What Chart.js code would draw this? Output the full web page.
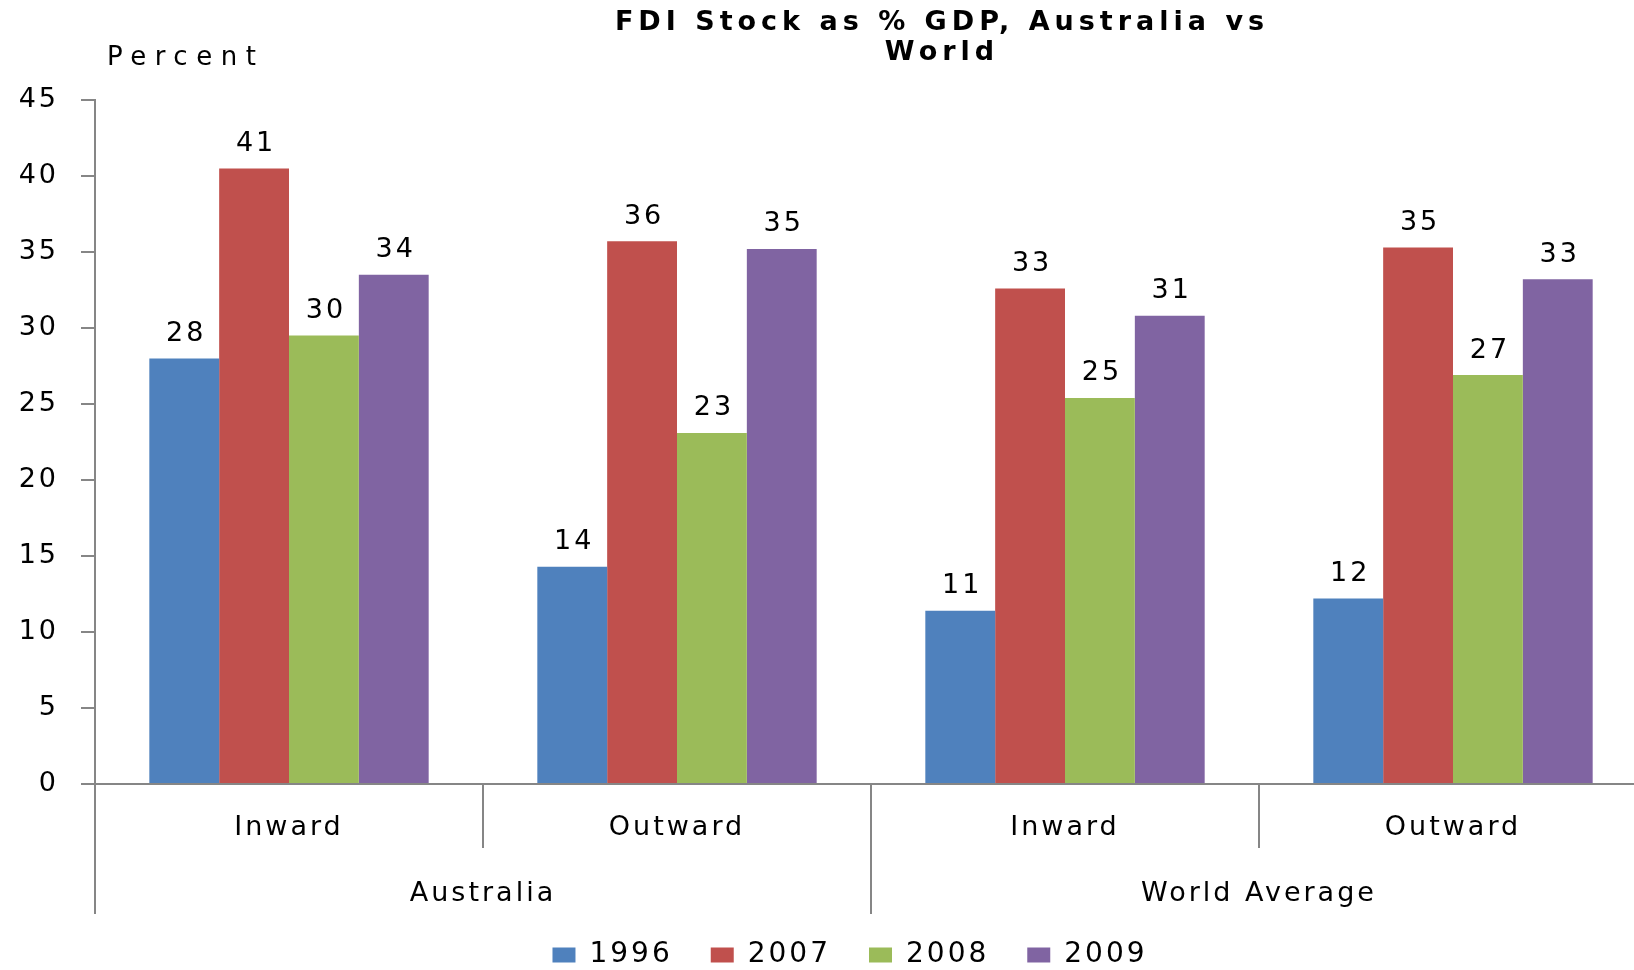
<!DOCTYPE html>
<html>
<head>
<meta charset="utf-8">
<title>FDI Stock as % GDP</title>
<script src="https://cdn.jsdelivr.net/npm/chart.js@4.4.1/dist/chart.umd.min.js"></script>
<style>
  html, body { margin: 0; padding: 0; background: #fff; }
  #wrap { width: 1634px; height: 970px; }
</style>
</head>
<body>
<div id="wrap"><canvas id="fdiChart" width="1634" height="970"></canvas></div>
<script>
const categories = ['Inward', 'Outward', 'Inward', 'Outward'];
const groups = ['Australia', 'World Average'];
const years = ['1996', '2007', '2008', '2009'];
const values1996 = [28.0, 14.3, 11.4, 12.2];
const values2007 = [40.5, 35.7, 32.6, 35.3];
const values2008 = [29.5, 23.1, 25.4, 26.9];
const values2009 = [33.5, 35.2, 30.8, 33.2];
const yTicks = [0, 5, 10, 15, 20, 25, 30, 35, 40, 45];
const colors = ['#4F81BD', '#C0504D', '#9BBB59', '#8064A2'];

const FONT = 'DejaVu Sans';
const SIZE = 27;
const SPACING = '3px';
const axisGrey = '#868686';

// Excel-like wide text
const spacingPlugin = {
  id: 'spacing',
  beforeLayout(chart) { chart.ctx.letterSpacing = SPACING; },
  afterLayout(chart) {
    // plot runs a little past the right edge of the picture
    const extra = 13;
    chart.chartArea.right += extra;
    chart.chartArea.width += extra;
    ['x', 'x2'].forEach(id => {
      const s = chart.scales[id];
      s.right += extra;
      s.width += extra;
      s.configure();
    });
    // legend sits a little right of the canvas centre in the original
    const lg = chart.legend;
    lg.left += 33;
    lg.right += 33;
    lg.top -= 28;
    lg.bottom -= 28;
  },
  beforeDraw(chart) { chart.ctx.letterSpacing = SPACING; }
};

const extrasPlugin = {
  id: 'extras',
  afterDraw(chart) {
    const ctx = chart.ctx;
    const x = chart.scales.x;
    ctx.save();

    // title and unit label
    ctx.fillStyle = '#000';
    ctx.textAlign = 'center';
    ctx.textBaseline = 'middle';
    ctx.letterSpacing = '5px';
    ctx.font = 'bold 27px "' + FONT + '"';
    ctx.fillText('FDI Stock as % GDP, Australia vs', 942, 23);
    ctx.fillText('World', 942, 53);
    ctx.letterSpacing = '8.5px';
    ctx.font = '26px "' + FONT + '"';
    ctx.textAlign = 'left';
    ctx.fillText('Percent', 107, 58);

    // category / group separators under the axis
    ctx.strokeStyle = axisGrey;
    ctx.lineWidth = 2;
    const step = x.width / categories.length;
    for (let i = 0; i < categories.length; i++) {
      const bx = Math.round(x.left + i * step);
      const long = i % 2 === 0;
      ctx.beginPath();
      ctx.moveTo(bx, x.top);
      ctx.lineTo(bx, long ? x.top + 130 : x.top + 64);
      ctx.stroke();
    }

    // value labels
    ctx.letterSpacing = SPACING;
    ctx.font = SIZE + 'px "' + FONT + '"';
    ctx.textAlign = 'center';
    ctx.textBaseline = 'bottom';
    chart.data.datasets.forEach((ds, di) => {
      chart.getDatasetMeta(di).data.forEach((bar, i) => {
        ctx.fillText(String(Math.round(ds.data[i])), bar.x + 2, bar.y - 11);
      });
    });
    ctx.restore();
  }
};

window.addEventListener('load', () => {
  const ctx = document.getElementById('fdiChart').getContext('2d');
  new Chart(ctx, {
    type: 'bar',
    data: {
      labels: categories,
      datasets: [
        { label: years[0], data: values1996, backgroundColor: colors[0] },
        { label: years[1], data: values2007, backgroundColor: colors[1] },
        { label: years[2], data: values2008, backgroundColor: colors[2] },
        { label: years[3], data: values2009, backgroundColor: colors[3] }
      ]
    },
    options: {
      responsive: false,
      animation: false,
      layout: { padding: { top: 100, left: 0, right: 0, bottom: -37 } },
      datasets: {
        bar: { barPercentage: 1.0, categoryPercentage: 0.72 }
      },
      scales: {
        y: {
          min: 0,
          max: 45,
          afterBuildTicks: s => { s.ticks = yTicks.map(v => ({ value: v })); },
          afterFit: s => { s.width = 95; },
          border: { color: axisGrey, width: 2 },
          grid: { drawOnChartArea: false, color: axisGrey, lineWidth: 2, tickLength: 14 },
          ticks: { color: '#000', padding: 22, font: { family: FONT, size: SIZE } }
        },
        x: {
          afterFit: s => { s.height = 62; },
          border: { color: axisGrey, width: 2 },
          grid: { display: false, drawTicks: false },
          ticks: { color: '#000', padding: 28, font: { family: FONT, size: SIZE } }
        },
        x2: {
          type: 'category',
          position: 'bottom',
          labels: groups,
          afterFit: s => { s.height = 85; },
          border: { display: false },
          grid: { display: false, drawTicks: false },
          ticks: { color: '#000', padding: 32, font: { family: FONT, size: SIZE } }
        }
      },
      plugins: {
        title: { display: false },
        tooltip: { enabled: false },
        legend: {
          position: 'bottom',
          labels: {
            color: '#000',
            boxWidth: 23,
            boxHeight: 15,
            padding: 38,
            font: { family: FONT, size: 28 }
          }
        }
      }
    },
    plugins: [spacingPlugin, extrasPlugin]
  });
});
</script>
</body>
</html>
